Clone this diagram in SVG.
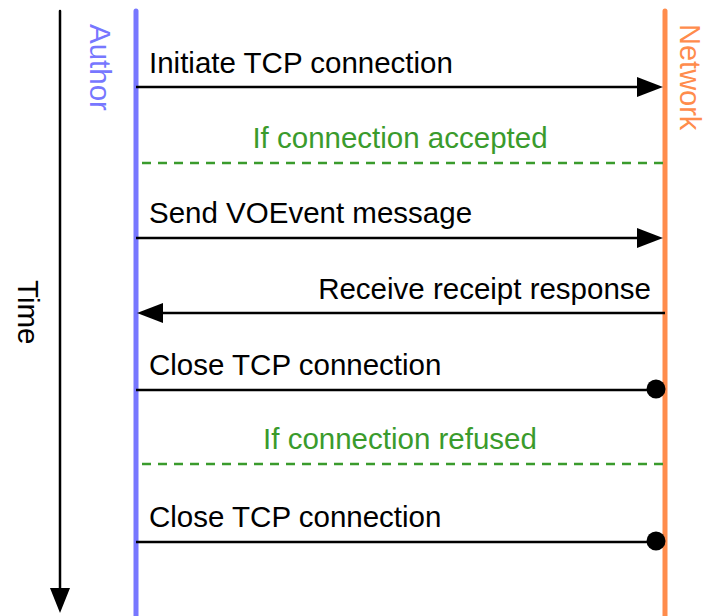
<svg xmlns="http://www.w3.org/2000/svg" width="708" height="616" viewBox="0 0 708 616">
<style>
text{font-family:"Liberation Sans",Arial,sans-serif;font-size:29.5px;fill:#000}
.g{fill:#3a9b2c}
.msg{stroke:#000;stroke-width:2.5;fill:none}
.dash{stroke:#3a9b2c;stroke-width:2.5;stroke-dasharray:9 7;fill:none}
.head{fill:#000}
</style>
<rect width="708" height="616" fill="#fff"/>
<g id="time">
<line x1="60" y1="11" x2="60" y2="592" stroke="#000" stroke-width="2.5" stroke-linecap="round"/>
<polygon class="head" points="50,588 70,588 60,613"/>
<text transform="translate(18,280) rotate(90)">Time</text>
</g>
<g id="author">
<line x1="136" y1="11" x2="136" y2="620" stroke="#7777ff" stroke-width="5" stroke-linecap="round"/>
<text transform="translate(90,24) rotate(90)" style="fill:#7777ff">Author</text>
</g>
<g id="network">
<line x1="665" y1="11" x2="665" y2="620" stroke="#ff8c4c" stroke-width="5" stroke-linecap="round"/>
<text transform="translate(680,24) rotate(90)" style="fill:#ff8c4c;font-size:29px">Network</text>
</g>
<g id="connectors">
<line class="msg" x1="136" y1="87" x2="640" y2="87"/>
<polygon class="head" points="637,77 663,87 637,97"/>
<line class="dash" x1="142" y1="163" x2="666" y2="163"/>
<line class="msg" x1="136" y1="238" x2="640" y2="238"/>
<polygon class="head" points="637,228 663,238 637,248"/>
<line class="msg" x1="160" y1="313" x2="665" y2="313"/>
<polygon class="head" points="163,303 137,313 163,323"/>
<line class="msg" x1="136" y1="390" x2="656" y2="390"/>
<circle cx="656" cy="389" r="9.5" fill="#000"/>
<line class="dash" x1="142" y1="464" x2="666" y2="464"/>
<line class="msg" x1="136" y1="542" x2="656" y2="542"/>
<circle cx="656" cy="541" r="9.5" fill="#000"/>
</g>
<g id="labels">
<text x="149" y="73">Initiate TCP connection</text>
<text class="g" x="400" y="148" text-anchor="middle">If connection accepted</text>
<text x="149" y="223">Send VOEvent message</text>
<text x="651" y="299" text-anchor="end">Receive receipt response</text>
<text x="149" y="375">Close TCP connection</text>
<text class="g" x="400" y="449" text-anchor="middle">If connection refused</text>
<text x="149" y="527">Close TCP connection</text>
</g>
</svg>
